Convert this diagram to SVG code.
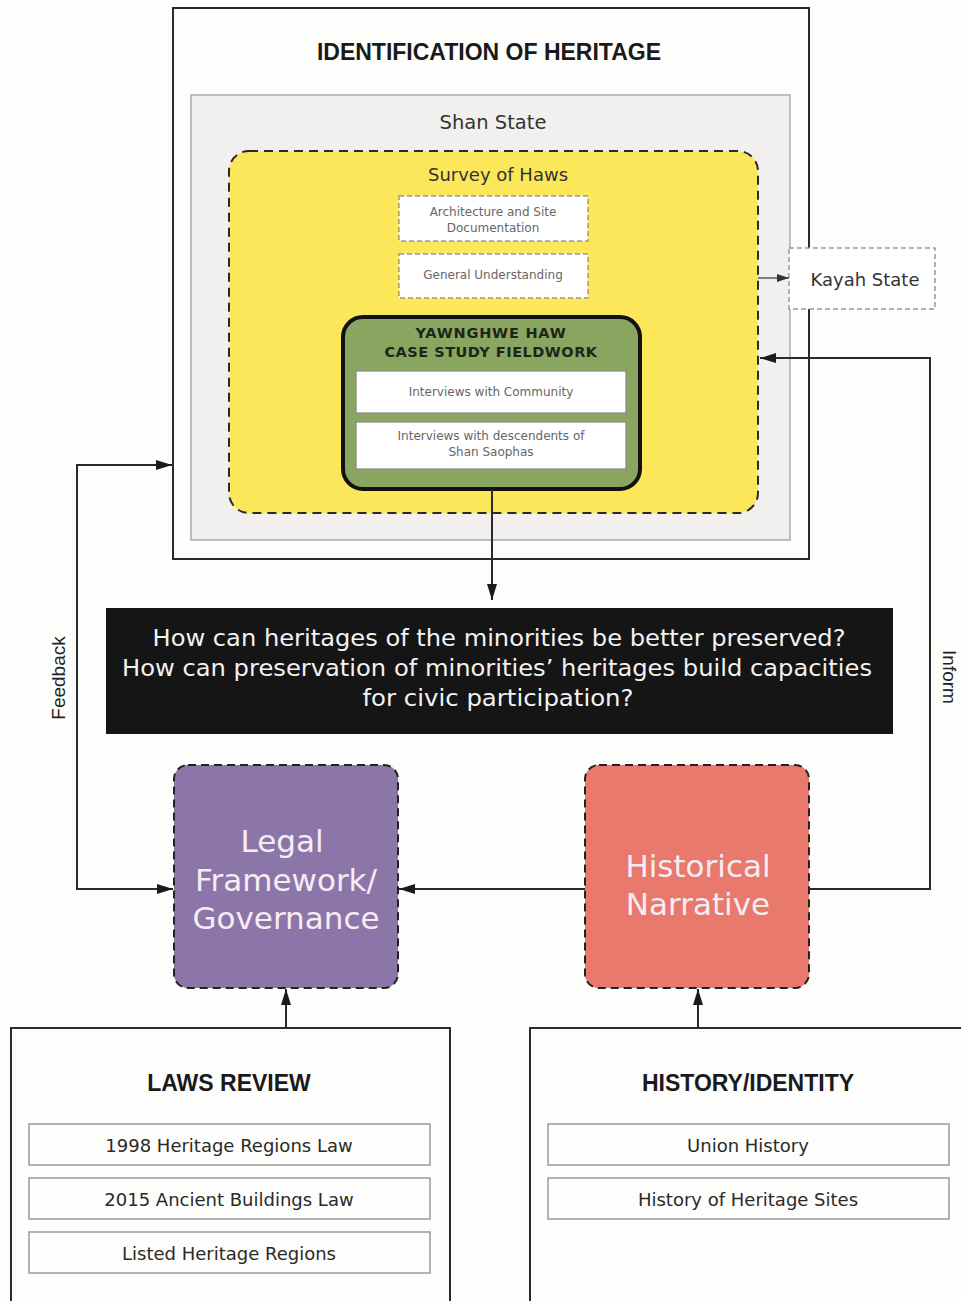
<svg xmlns="http://www.w3.org/2000/svg" width="961" height="1301" viewBox="0 0 961 1301">
<defs>
<marker id="ah" viewBox="0 0 16 10" refX="16" refY="5" markerWidth="16" markerHeight="10" markerUnits="userSpaceOnUse" orient="auto">
<path d="M0,0 L16,5 L0,10 Z" fill="#1a1a1a"/>
</marker>
<marker id="ahs" viewBox="0 0 12 8" refX="12" refY="4" markerWidth="12" markerHeight="8" markerUnits="userSpaceOnUse" orient="auto">
<path d="M0,0 L12,4 L0,8 Z" fill="#333"/>
</marker>
<style>
text{font-family:"DejaVu Sans","Liberation Sans",sans-serif;text-anchor:middle}
.frame{fill:#fdfdfb;stroke:#2a2a2a;stroke-width:2}
.title{font-family:"Liberation Sans",Arial,sans-serif;font-size:23px;font-weight:bold;fill:#1a1a1a}
.small{font-size:12px;fill:#666}
.dashw{fill:#fff;stroke:#999;stroke-width:1.5;stroke-dasharray:5 3}
.inner{fill:#fff;stroke:#888;stroke-width:1.2}
.item{fill:#fdfdfb;stroke:#999;stroke-width:1.5}
.itemt{font-size:18px;fill:#2a2a2a}
.conn{fill:none;stroke:#2a2a2a;stroke-width:2}
.big{font-size:31px;fill:#f6ecf2}
.lbl{font-family:"Liberation Sans",Arial,sans-serif;font-size:19px;fill:#222}
.q{font-size:23px;fill:#f2f2f2}
</style>
</defs>
<rect width="961" height="1301" fill="#fdfdfb"/>

<g id="identification">
<rect class="frame" x="173" y="8" width="636" height="551"/>
<text class="title" x="489" y="60">IDENTIFICATION OF HERITAGE</text>
</g>

<g id="shan-state">
<rect x="191" y="95" width="599" height="445" fill="#f1f0ee" stroke="#aaa" stroke-width="1.5"/>
<text x="493" y="129" font-size="19.5" fill="#333">Shan State</text>
</g>

<g id="survey">
<rect x="229" y="151" width="529" height="362" rx="20" fill="#fce75b" stroke="#2a2a2a" stroke-width="2" stroke-dasharray="9 6"/>
<text x="498" y="181" font-size="18" fill="#333">Survey of Haws</text>
</g>

<g id="arch-doc">
<rect class="dashw" x="399" y="196" width="189" height="45"/>
<text class="small" x="493" y="216">Architecture and Site</text>
<text class="small" x="493" y="232">Documentation</text>
</g>

<g id="general">
<rect class="dashw" x="399" y="254" width="189" height="44"/>
<text class="small" x="493" y="279">General Understanding</text>
</g>

<g id="fieldwork">
<rect x="343" y="317" width="297" height="172" rx="20" fill="#8aa55f" stroke="#111" stroke-width="4"/>
<text x="491" y="338" font-family="Liberation Sans" font-size="14.5" font-weight="bold" fill="#1c261a" letter-spacing="0.8">YAWNGHWE HAW</text>
<text x="491" y="357" font-family="Liberation Sans" font-size="14.5" font-weight="bold" fill="#1c261a" letter-spacing="0.5">CASE STUDY FIELDWORK</text>
</g>

<g id="interviews-community">
<rect class="inner" x="356" y="371" width="270" height="42"/>
<text class="small" x="491" y="396">Interviews with Community</text>
</g>

<g id="interviews-descendents">
<rect class="inner" x="356" y="422" width="270" height="47"/>
<text class="small" x="491" y="440">Interviews with descendents of</text>
<text class="small" x="491" y="456">Shan Saophas</text>
</g>

<g id="kayah">
<rect x="789" y="248" width="146" height="61" fill="#fff" stroke="#999" stroke-width="1.5" stroke-dasharray="5 3"/>
<text x="865" y="286" font-size="18" fill="#333">Kayah State</text>
</g>

<g id="question">
<rect x="106" y="608" width="787" height="126" fill="#151515"/>
<text class="q" x="499" y="646" textLength="693" lengthAdjust="spacingAndGlyphs">How can heritages of the minorities be better preserved?</text>
<text class="q" x="497" y="676" textLength="750" lengthAdjust="spacingAndGlyphs">How can preservation of minorities’ heritages build capacities</text>
<text class="q" x="498" y="706" textLength="271" lengthAdjust="spacingAndGlyphs">for civic participation?</text>
</g>

<g id="legal">
<rect x="174" y="765" width="224" height="223" rx="14" fill="#8c76a9" stroke="#222" stroke-width="2" stroke-dasharray="8 5"/>
<text class="big" x="282" y="852">Legal</text>
<text class="big" x="286" y="891">Framework/</text>
<text class="big" x="286" y="929">Governance</text>
</g>

<g id="historical">
<rect x="585" y="765" width="224" height="223" rx="14" fill="#e8796c" stroke="#222" stroke-width="2" stroke-dasharray="8 5"/>
<text class="big" x="698" y="877">Historical</text>
<text class="big" x="698" y="915">Narrative</text>
</g>

<g id="laws-review">
<rect class="frame" x="11" y="1028" width="439" height="290"/>
<text class="title" x="229" y="1091" font-size="22">LAWS REVIEW</text>
<rect class="item" x="29" y="1124" width="401" height="41"/>
<text class="itemt" x="229" y="1152">1998 Heritage Regions Law</text>
<rect class="item" x="29" y="1178" width="401" height="41"/>
<text class="itemt" x="229" y="1206">2015 Ancient Buildings Law</text>
<rect class="item" x="29" y="1232" width="401" height="41"/>
<text class="itemt" x="229" y="1260">Listed Heritage Regions</text>
</g>

<g id="history-identity">
<rect class="frame" x="530" y="1028" width="450" height="290"/>
<text class="title" x="748" y="1091" font-size="22">HISTORY/IDENTITY</text>
<rect class="item" x="548" y="1124" width="401" height="41"/>
<text class="itemt" x="748" y="1152">Union History</text>
<rect class="item" x="548" y="1178" width="401" height="41"/>
<text class="itemt" x="748" y="1206">History of Heritage Sites</text>
</g>

<g id="connectors">
<path class="conn" d="M492,489 V600" marker-end="url(#ah)"/>
<path d="M758,278 H789" fill="none" stroke="#333" stroke-width="1.2" marker-end="url(#ahs)"/>
<path class="conn" d="M809,889 H930 V358 H760" marker-end="url(#ah)"/>
<path class="conn" d="M173,465 H77 V889 H173" marker-end="url(#ah)"/>
<path class="conn" d="M77,465 H172" marker-end="url(#ah)"/>
<path class="conn" d="M585,889 H399" marker-end="url(#ah)"/>
<path class="conn" d="M286,1028 V989" marker-end="url(#ah)"/>
<path class="conn" d="M698,1028 V989" marker-end="url(#ah)"/>
<text class="lbl" transform="translate(65,678) rotate(-90)">Feedback</text>
<text class="lbl" transform="translate(943,677) rotate(90)">Inform</text>
</g>
</svg>
